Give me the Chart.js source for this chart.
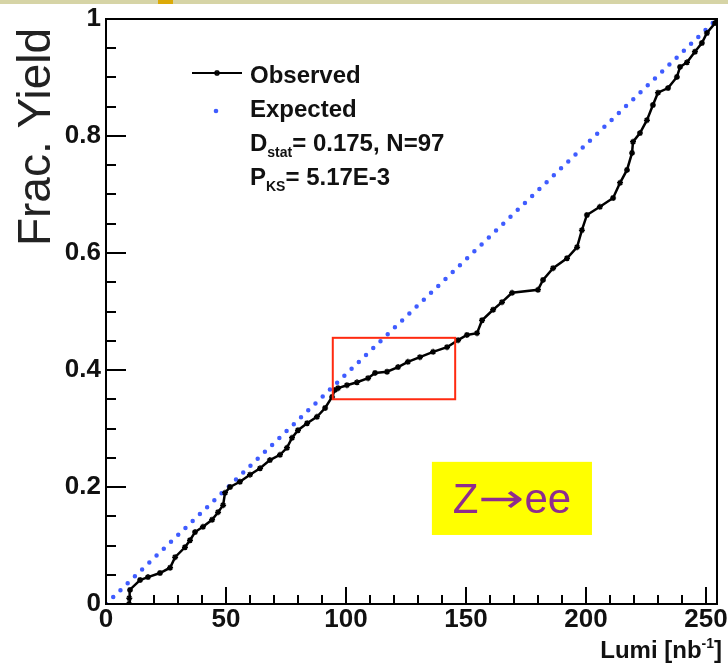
<!DOCTYPE html>
<html>
<head>
<meta charset="utf-8">
<title>Frac. Yield vs Lumi</title>
<script src="https://cdn.jsdelivr.net/npm/chart.js@4.4.1/dist/chart.umd.min.js"></script>
<style>
  html, body { margin: 0; padding: 0; background: #fff; }
  #wrap { position: relative; width: 728px; height: 665px; }
</style>
</head>
<body>
<div id="wrap"><canvas id="ks-chart" width="728" height="665"></canvas></div>
<script>
// Observed cumulative fraction of Z->ee yield vs integrated luminosity
const obsLumi = [9.6, 9.7, 10.0, 14.2, 17.5, 22.5, 26.7, 28.8, 32.9, 35.0,
  37.1, 40.4, 44.2, 46.7, 48.8, 49.6, 51.7, 55.8, 60.0, 64.2,
  68.3, 72.5, 75.4, 77.5, 80.0, 83.8, 87.9, 91.3, 94.2, 95.4,
  96.7, 100.4, 104.6, 109.2, 112.1, 117.1, 121.7, 125.8, 130.8, 136.3,
  142.1, 146.7, 150.4, 154.6, 156.7, 161.3, 165.0, 169.2, 180.0, 182.1,
  186.3, 192.1, 196.3, 198.3, 200.4, 205.8, 211.3, 214.2, 217.1, 219.2,
  219.6, 222.5, 225.4, 227.9, 230.0, 234.2, 237.9, 239.2, 242.1, 245.4,
  248.3, 250.4, 253.8, 254.6];
const obsFrac = [0, 0.010, 0.024, 0.041, 0.046, 0.053, 0.062, 0.080, 0.097, 0.109,
  0.123, 0.132, 0.144, 0.157, 0.169, 0.190, 0.200, 0.209, 0.221, 0.232,
  0.246, 0.255, 0.267, 0.284, 0.297, 0.309, 0.320, 0.335, 0.354, 0.366,
  0.369, 0.374, 0.379, 0.386, 0.395, 0.397, 0.405, 0.414, 0.422, 0.431,
  0.439, 0.451, 0.460, 0.463, 0.485, 0.503, 0.516, 0.532, 0.537, 0.554,
  0.574, 0.591, 0.610, 0.639, 0.665, 0.679, 0.694, 0.720, 0.742, 0.771,
  0.790, 0.805, 0.827, 0.853, 0.874, 0.882, 0.901, 0.918, 0.926, 0.944,
  0.959, 0.976, 0.993, 1.0];

// Expected: yield proportional to luminosity
const expLumi = [0, 254.6];
const expFrac = [0, 1];

// Axis ticks
const xTicks = [0, 50, 100, 150, 200, 250];
const yTicks = [0, 0.2, 0.4, 0.6, 0.8, 1];

// KS test summary
const dStat = '0.175';
const nEvents = '97';
const pKS = '5.17E-3';

// Highlighted region (lumi range, frac range) and channel tag position
const boxLumi = [94.5, 145.5];
const boxFrac = [0.350, 0.455];
const tagLumi = [135.8, 202.5];
const tagFrac = [0.118, 0.243];

(function() {
  const FONT = '"Liberation Sans", Arial, Helvetica, sans-serif';
  const BLUE = '#3f5cff';

  function line(ctx, x1, y1, x2, y2) {
    ctx.beginPath();
    ctx.moveTo(x1, y1);
    ctx.lineTo(x2, y2);
    ctx.stroke();
  }

  function star(ctx, x, y, r) {
    ctx.save();
    ctx.lineWidth = 1.5;
    line(ctx, x - r, y, x + r, y);
    line(ctx, x, y - r, x, y + r);
    const d = r * 0.7;
    line(ctx, x - d, y - d, x + d, y + d);
    line(ctx, x - d, y + d, x + d, y - d);
    ctx.restore();
  }

  const decor = {
    id: 'decor',
    beforeDraw(chart) {
      const ctx = chart.ctx;
      ctx.save();
      ctx.fillStyle = '#fff';
      ctx.fillRect(0, 0, chart.width, chart.height);
      // slide header strip
      ctx.fillStyle = '#d6d4a6';
      ctx.fillRect(0, 0, chart.width, 4);
      ctx.fillStyle = '#dcaa08';
      ctx.fillRect(158, 0, 15, 4);
      ctx.restore();
    },
    afterDatasetsDraw(chart) {
      const ctx = chart.ctx;
      const xs = chart.scales.x, ys = chart.scales.y;
      ctx.save();
      // red box over the flat part
      ctx.strokeStyle = '#ff2a10';
      ctx.lineWidth = 2;
      const bx1 = xs.getPixelForValue(boxLumi[0]), bx2 = xs.getPixelForValue(boxLumi[1]);
      const by1 = ys.getPixelForValue(boxFrac[1]), by2 = ys.getPixelForValue(boxFrac[0]);
      ctx.strokeRect(bx1, by1, bx2 - bx1, by2 - by1);

      // channel tag: Z, stretched arrow, ee
      const tx1 = xs.getPixelForValue(tagLumi[0]), tx2 = xs.getPixelForValue(tagLumi[1]);
      const ty1 = ys.getPixelForValue(tagFrac[1]), ty2 = ys.getPixelForValue(tagFrac[0]);
      ctx.fillStyle = '#ffff00';
      ctx.fillRect(tx1, ty1, tx2 - tx1, ty2 - ty1);
      ctx.fillStyle = '#8e2c8e';
      ctx.textAlign = 'left';
      ctx.textBaseline = 'alphabetic';
      const tagFont = '42px ' + FONT;
      const arrowFont = '40px "DejaVu Sans", sans-serif';
      const arrowW = 46;
      ctx.font = tagFont;
      const wZ = ctx.measureText('Z').width;
      const wE = ctx.measureText('ee').width;
      ctx.font = arrowFont;
      const wA = ctx.measureText('\u2192').width;
      let x = (tx1 + tx2) / 2 - (wZ + arrowW + wE) / 2;
      ctx.font = tagFont;
      ctx.fillText('Z', x, 513);
      x += wZ;
      ctx.save();
      ctx.font = arrowFont;
      ctx.translate(x, 512);
      ctx.scale(arrowW / wA, 1);
      ctx.fillText('\u2192', 0, 0);
      ctx.restore();
      x += arrowW;
      ctx.font = tagFont;
      ctx.fillText('ee', x, 513);
      ctx.restore();
    },
    afterDraw(chart) {
      const ctx = chart.ctx;
      const { left, right, top, bottom } = chart.chartArea;
      const xs = chart.scales.x, ys = chart.scales.y;
      ctx.save();

      // frame
      ctx.strokeStyle = '#000';
      ctx.lineWidth = 2;
      ctx.strokeRect(left, top, right - left, bottom - top);

      // inward tick marks
      for (let v = 0; v <= 250; v += 10) {
        const px = Math.round(xs.getPixelForValue(v));
        const len = v % 50 === 0 ? 17 : 9;
        line(ctx, px, bottom, px, bottom - len);
      }
      for (let i = 0; i <= 20; i++) {
        const py = Math.round(ys.getPixelForValue(i * 0.05));
        const len = i % 4 === 0 ? 20 : 10;
        line(ctx, left, py, left + len, py);
      }

      // y title
      ctx.fillStyle = '#222';
      ctx.font = '46px ' + FONT;
      ctx.textAlign = 'center';
      ctx.textBaseline = 'alphabetic';
      ctx.save();
      ctx.translate(50, 137);
      ctx.rotate(-Math.PI / 2);
      ctx.fillText('Frac. Yield', 0, 0);
      ctx.restore();

      // x title with superscript
      ctx.fillStyle = '#111';
      ctx.textAlign = 'left';
      const big = 'bold 24px ' + FONT, small = 'bold 14px ' + FONT;
      ctx.font = big;
      const wClose = ctx.measureText(']').width;
      const wMain = ctx.measureText('Lumi [nb').width;
      ctx.font = small;
      const wSup = ctx.measureText('-1').width;
      let x = 722 - wClose - wSup - wMain;
      ctx.font = big;
      ctx.fillText('Lumi [nb', x, 658);
      x += wMain;
      ctx.font = small;
      ctx.fillText('-1', x, 648);
      x += wSup;
      ctx.font = big;
      ctx.fillText(']', x, 658);

      // legend
      ctx.strokeStyle = '#000';
      ctx.lineWidth = 2;
      line(ctx, 192, 73, 242, 73);
      star(ctx, 217, 73, 3);
      ctx.fillText(chart.data.datasets[0].label, 250, 83);

      ctx.fillStyle = BLUE;
      ctx.beginPath();
      ctx.arc(216, 111, 2.3, 0, Math.PI * 2);
      ctx.fill();
      ctx.fillStyle = '#111';
      ctx.fillText(chart.data.datasets[1].label, 250, 117);

      x = 250;
      ctx.fillText('D', x, 151);
      x += ctx.measureText('D').width;
      ctx.font = small;
      ctx.fillText('stat', x, 157);
      x += ctx.measureText('stat').width;
      ctx.font = big;
      ctx.fillText('= ' + dStat + ', N=' + nEvents, x, 151);

      x = 250;
      ctx.fillText('P', x, 185);
      x += ctx.measureText('P').width;
      ctx.font = small;
      ctx.fillText('KS', x, 191);
      x += ctx.measureText('KS').width;
      ctx.font = big;
      ctx.fillText('= ' + pKS, x, 185);

      ctx.restore();
    }
  };

  const ctx = document.getElementById('ks-chart');
  new Chart(ctx, {
    type: 'line',
    data: {
      datasets: [
        {
          label: 'Observed',
          data: obsLumi.map((v, i) => ({ x: v, y: obsFrac[i] })),
          borderColor: '#000',
          borderWidth: 2.5,
          pointStyle: 'star',
          pointRadius: 3,
          pointBorderWidth: 1.5,
          pointBorderColor: '#000',
          pointBackgroundColor: '#000',
          tension: 0,
          order: 1
        },
        {
          label: 'Expected',
          data: expLumi.map((v, i) => ({ x: v, y: expFrac[i] })),
          borderColor: BLUE,
          borderWidth: 4.5,
          borderDash: [0, 10],
          borderCapStyle: 'round',
          pointRadius: 0,
          tension: 0,
          order: 2
        }
      ]
    },
    options: {
      responsive: false,
      animation: false,
      events: [],
      layout: { padding: { left: 0, top: 19, right: 11, bottom: 0 } },
      plugins: {
        legend: { display: false },
        tooltip: { enabled: false },
        title: { display: false }
      },
      scales: {
        x: {
          type: 'linear',
          min: 0,
          max: 254.6,
          grid: { display: false, drawTicks: false },
          border: { display: false },
          afterBuildTicks: s => { s.ticks = xTicks.map(v => ({ value: v })); },
          afterFit: s => {
            s.height = 61;
            s.paddingLeft = 0; s.paddingRight = 0;
          },
          ticks: {
            includeBounds: false,
            padding: 0,
            maxRotation: 0,
            autoSkip: false,
            color: '#111',
            font: { family: FONT, size: 26, weight: 'bold' },
            callback: v => String(v)
          }
        },
        y: {
          type: 'linear',
          min: 0,
          max: 1,
          grid: { display: false, drawTicks: false },
          border: { display: false },
          afterBuildTicks: s => { s.ticks = yTicks.map(v => ({ value: v })); },
          afterFit: s => {
            s.width = 106;
            s.paddingTop = 0; s.paddingBottom = 0;
          },
          ticks: {
            padding: 5,
            autoSkip: false,
            color: '#111',
            font: { family: FONT, size: 26, weight: 'bold' },
            callback: v => String(v)
          }
        }
      }
    },
    plugins: [decor]
  });
})();
</script>
</body>
</html>
